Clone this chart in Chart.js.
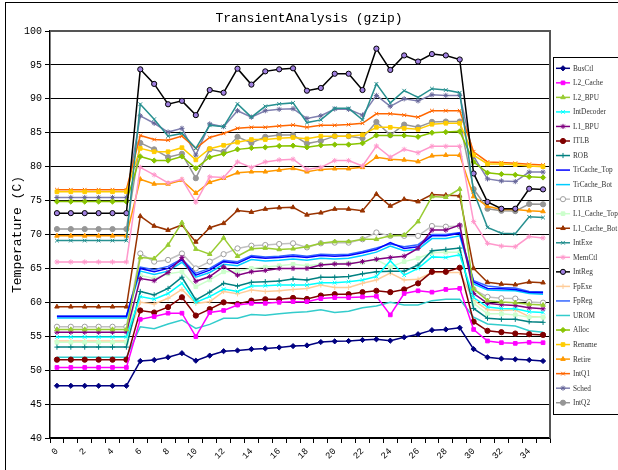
<!DOCTYPE html>
<html>
<head>
<meta charset="utf-8">
<script src="https://cdn.jsdelivr.net/npm/chart.js@4.4.0/dist/chart.umd.min.js"></script>
<style>
  body { margin: 0; background: #fff; }
  #wrap { width: 618px; height: 470px; }
</style>
</head>
<body>
<div id="wrap"><canvas id="tempChart" width="618" height="470"></canvas></div>
<script>
const steps = ['0','1','2','3','4','5','6','7','8','9','10','11','12','13','14','15','16','17',
  '18','19','20','21','22','23','24','25','26','27','28','29','30','31','32','33','34','35'];

const busCtl = [47.7,47.7,47.7,47.7,47.7,47.7, 51.35,51.5,51.9,52.5,51.4,52.15,52.8,52.9,53.1,53.2,53.35,53.55,53.65,54.15,54.25,54.3,54.45,54.55,54.35,54.85,55.3,55.9,56.0,56.25, 53.1,51.9,51.7,51.6,51.5,51.35];
const l2Cache = [50.4,50.4,50.4,50.4,50.4,50.4, 57.5,57.9,58.4,58.4,54.95,58.5,58.8,59.6,59.85,59.85,60.0,60.1,60.1,60.55,60.7,60.7,60.8,60.9,58.15,61.3,61.7,61.5,61.9,62.05, 56.0,54.3,54.05,53.95,54.1,54.05];
const l2Bpu = [56.0,56.0,56.0,56.0,56.0,56.0, 66.6,66.45,68.45,71.75,67.85,67.1,69.5,66.8,67.9,68.0,67.8,67.9,68.2,68.7,68.95,68.95,69.3,69.3,69.8,69.9,71.9,75.6,75.5,76.7, 62.0,60.25,60.05,59.95,59.7,59.6];
const intDecoder = [54.9,54.9,54.9,54.9,54.9,54.9, 60.85,60.45,61.3,62.8,60.0,60.85,61.95,61.6,62.4,62.45,62.55,62.55,62.55,62.9,62.9,63.05,63.3,63.8,66.1,64.0,65.0,66.7,66.6,67.0, 60.7,59.3,59.1,59.05,58.6,58.5];
const l1Bpu = [55.6,55.6,55.6,55.6,55.6,55.6, 63.5,63.2,64.4,66.6,63.1,63.8,65.25,64.0,64.5,64.7,65.0,65.0,65.0,65.5,65.65,65.65,66.0,66.35,66.6,66.8,67.95,70.65,70.65,71.4, 61.3,59.85,59.65,59.55,59.2,59.05];
const itlb = [51.55,51.55,51.55,51.55,51.55,51.55, 58.8,58.5,59.3,60.75,58.05,59.0,60.0,59.75,60.25,60.45,60.45,60.65,60.5,61.0,61.2,61.2,61.5,61.7,61.5,61.9,62.8,64.5,64.5,65.1, 57.15,55.8,55.6,55.4,55.3,55.2];
const rob = [53.4,53.4,53.4,53.4,53.4,53.4, 61.6,61.1,62.05,63.7,60.35,61.5,62.8,62.4,62.95,63.05,63.15,63.45,63.3,63.7,63.7,63.8,64.2,64.5,64.6,64.6,65.5,67.6,67.8,68.0, 59.1,57.65,57.5,57.5,57.15,57.05];
const trCacheTop = [57.9,57.9,57.9,57.9,57.9,57.9, 65.0,64.5,65.0,66.25,64.0,64.75,66.0,65.75,66.7,66.5,66.6,66.8,66.6,66.9,66.8,66.9,67.3,67.8,68.8,67.95,68.2,69.8,69.8,70.2, 63.0,62.05,62.0,61.9,61.5,61.4];
const trCacheBot = [57.7,57.7,57.7,57.7,57.7,57.7, 64.6,64.1,64.6,65.9,63.7,64.4,65.6,65.4,66.3,66.1,66.2,66.4,66.2,66.5,66.4,66.5,66.9,67.4,68.3,67.6,67.8,69.4,69.4,69.8, 62.7,61.8,61.75,61.7,61.3,61.2];
const dtlb = [56.4,56.4,56.4,56.4,56.4,56.4, 67.2,66.0,66.25,67.2,65.0,66.0,67.1,67.95,68.35,68.45,68.6,68.7,68.1,68.7,68.8,68.8,69.3,70.3,69.8,69.8,69.8,71.25,71.15,71.25, 61.9,60.8,60.6,60.55,60.05,59.95];
const l1CacheTop = [54.1,54.1,54.1,54.1,54.1,54.1, 64.0,63.5,64.2,64.5,62.3,63.3,64.5,64.6,65.0,65.2,65.4,65.6,65.4,65.6,65.7,65.8,65.9,66.3,65.2,66.0,66.5,67.3,67.4,67.4, 59.85,58.3,58.3,58.15,57.8,57.8];
const l1CacheBot = [59.35,59.35,59.35,59.35,59.35,59.35, 72.7,71.25,70.65,71.4,68.9,71.0,71.65,73.55,73.3,73.75,73.95,74.0,72.9,73.2,73.75,73.75,73.5,75.95,74.2,75.2,74.85,75.9,75.8,75.7, 65.0,62.95,62.7,62.6,63.0,62.9];
const intExe = [69.1,69.1,69.1,69.1,69.1,69.1, 89.2,87.0,84.5,84.9,82.7,86.1,85.9,89.25,87.3,88.9,89.25,89.4,86.5,86.9,88.6,88.6,86.9,92.2,89.4,91.2,90.2,91.5,91.3,90.9, 76.3,71.05,70.2,70.1,72.6,72.5];
const memCtl = [65.95,65.95,65.95,65.95,65.95,65.95, 79.9,78.8,77.6,78.15,74.75,78.5,78.4,80.7,79.9,80.7,81.0,81.1,79.6,79.9,80.9,80.9,80.1,83.05,81.4,82.55,82.05,83.0,83.0,83.0, 71.9,68.7,68.3,68.2,69.7,69.5];
const intReg = [73.15,73.15,73.15,73.15,73.15,73.15, 94.35,92.2,89.2,89.7,87.6,91.3,90.9,94.45,92.1,94.05,94.35,94.5,91.2,91.6,93.7,93.7,91.3,97.4,94.26,96.4,95.5,96.6,96.4,95.8, 79.0,74.8,73.8,73.8,76.75,76.65];
const fpExe = [54.3,54.3,54.3,54.3,54.3,54.3, 60.0,59.75,60.6,61.9,59.85,60.1,61.6,61.25,61.8,61.6,61.7,61.9,62.05,62.55,62.2,62.2,62.8,63.3,64.3,63.3,63.4,64.4,64.4,64.4, 60.3,58.9,58.8,58.9,57.9,57.8];
const fpReg = [58.0,58.0,58.0,58.0,58.0,58.0, 65.2,64.8,65.3,66.4,64.3,65.0,66.2,66.0,66.9,66.7,66.8,67.0,66.8,67.1,67.0,67.1,67.5,68.0,68.6,68.2,68.5,70.0,70.0,70.3, 63.2,62.4,62.2,62.1,61.6,61.55];
const urom = [51.9,51.9,51.9,51.9,51.9,51.9, 56.4,56.1,56.8,57.4,56.15,56.75,57.65,57.65,58.2,58.1,58.3,58.5,58.6,58.9,58.5,58.7,59.2,59.45,60.0,59.6,59.6,60.25,60.45,60.45, 57.8,56.8,56.65,56.5,55.8,55.6];
const alloc = [74.85,74.85,74.85,74.85,74.85,74.85, 81.5,80.9,80.9,81.5,79.75,81.4,81.9,82.55,82.75,82.85,83.05,83.1,82.85,83.15,83.25,83.25,83.45,84.6,84.6,84.6,84.4,85.0,85.1,85.2, 80.7,79.1,78.9,78.8,78.5,78.4];
const rename = [76.3,76.3,76.3,76.3,76.3,76.3, 82.7,82.2,82.2,82.8,81.0,82.65,83.15,83.6,84.0,84.0,84.2,84.3,84.1,84.5,84.5,84.5,84.7,85.8,85.8,85.65,85.5,86.25,86.4,86.4, 81.7,80.4,80.4,80.3,80.1,80.0];
const retire = [69.8,69.8,69.8,69.8,69.8,69.8, 78.15,77.45,77.45,78.0,76.1,77.7,78.3,79.1,79.25,79.25,79.5,79.75,79.25,79.6,79.7,79.7,79.9,81.4,81.1,81.0,80.75,81.6,81.7,81.7, 75.6,74.15,73.7,73.7,73.5,73.4];
const intQ1 = [76.6,76.6,76.6,76.6,76.6,76.6, 84.6,84.0,83.9,84.5,82.7,84.3,84.9,85.65,85.8,85.8,86.0,86.15,85.8,86.1,86.1,86.2,86.4,87.8,87.8,87.6,87.3,88.25,88.25,88.25, 82.2,80.7,80.6,80.5,80.35,80.25];
const sched = [75.45,75.45,75.45,75.45,75.45,75.45, 87.5,86.4,85.1,85.65,81.7,86.3,85.9,88.25,87.3,88.25,88.45,88.55,87.1,87.5,88.5,88.45,87.6,90.5,88.9,90.0,89.7,90.6,90.5,90.5, 81.5,78.2,77.9,77.8,79.2,79.2];
const intQ2 = [70.8,70.8,70.8,70.8,70.8,70.8, 83.5,82.55,81.4,81.9,78.3,82.55,82.2,84.4,83.5,84.4,84.65,84.65,83.4,83.8,84.5,84.5,84.2,86.6,84.65,86.2,85.8,86.6,86.65,86.65, 76.7,73.8,73.5,73.45,74.5,74.45];

const yTicks = [40, 45, 50, 55, 60, 65, 70, 75, 80, 85, 90, 95, 100];

const FONT = '"Liberation Mono", "DejaVu Sans Mono", monospace';
const LEGEND_FONT = '"Liberation Serif", "DejaVu Serif", serif';

// name, data, line colour, point style, point fill, point border
const seriesDefs = [
  ['BusCtl', busCtl, '#000080', 'rectRot', '#000080', '#000080'],
  ['L2_Cache', l2Cache, '#FF00FF', 'rect', '#FF00FF', '#FF00FF'],
  ['L2_BPU', l2Bpu, '#99CC33', 'triangle', '#99CC33', '#99CC33'],
  ['IntDecoder', intDecoder, '#00FFFF', 'crossRot', '#00FFFF', '#00FFFF'],
  ['L1_BPU', l1Bpu, '#800080', 'star', '#800080', '#800080'],
  ['ITLB', itlb, '#800000', 'circle', '#800000', '#800000'],
  ['ROB', rob, '#008080', 'cross', '#008080', '#008080'],
  ['TrCache_Top', trCacheTop, '#0000FF', 'line', '#0000FF', '#0000FF'],
  ['TrCache_Bot', trCacheBot, '#00CCFF', 'line', '#00CCFF', '#00CCFF'],
  ['DTLB', dtlb, '#C0C0C0', 'circle', '#FFFFFF', '#A0A0A0'],
  ['L1_Cache_Top', l1CacheTop, '#CCFFCC', 'rect', '#CCFFCC', '#CCFFCC'],
  ['L1_Cache_Bot', l1CacheBot, '#993300', 'triangle', '#993300', '#993300'],
  ['IntExe', intExe, '#279090', 'crossRot', '#279090', '#279090'],
  ['MemCtl', memCtl, '#FF99CC', 'star', '#FF99CC', '#FF99CC'],
  ['IntReg', intReg, '#000000', 'circle', '#A080E0', '#000000'],
  ['FpExe', fpExe, '#FFCC99', 'cross', '#FFCC99', '#FFCC99'],
  ['FpReg', fpReg, '#3366FF', 'line', '#3366FF', '#3366FF'],
  ['UROM', urom, '#33CCCC', 'line', '#33CCCC', '#33CCCC'],
  ['Alloc', alloc, '#88C400', 'rectRot', '#88C400', '#88C400'],
  ['Rename', rename, '#FFCC00', 'rect', '#FFCC00', '#FFCC00'],
  ['Retire', retire, '#FF9900', 'triangle', '#FF9900', '#FF9900'],
  ['IntQ1', intQ1, '#FF6600', 'crossRot', '#FF6600', '#FF6600'],
  ['Sched', sched, '#8080B0', 'star', '#666699', '#666699'],
  ['IntQ2', intQ2, '#969696', 'circle', '#969696', '#969696']
];

const datasets = seriesDefs.map(([name, data, line, style, fill, edge]) => ({
  label: name,
  data: data,
  borderColor: line,
  backgroundColor: fill,
  borderWidth: 1.5,
  pointStyle: style,
  pointRadius: style === 'line' ? 0 : 2.6,
  pointBackgroundColor: fill,
  pointBorderColor: edge,
  pointBorderWidth: 1,
  tension: 0,
  fill: false
}));

// small marker for the legend samples
function legendMarker(ctx, style, x, y, r) {
  if (Chart.helpers && Chart.helpers.drawPoint) {
    Chart.helpers.drawPoint(ctx, { pointStyle: style, radius: r, rotation: 0, borderWidth: 1 }, x, y);
    return;
  }
  ctx.beginPath();
  ctx.arc(x, y, r, 0, Math.PI * 2);
  ctx.fill();
  ctx.stroke();
}

// frame, title, plot border and legend box
const decor = {
  id: 'decor',
  beforeDraw(chart) {
    const ctx = chart.ctx;
    ctx.save();
    ctx.fillStyle = '#fff';
    ctx.fillRect(0, 0, chart.width, chart.height);
    ctx.strokeStyle = '#000';
    ctx.lineWidth = 1;
    ctx.strokeRect(5.5, 2.5, 700, 600);
    ctx.restore();
  },
  afterDraw(chart) {
    const ctx = chart.ctx;
    const a = chart.chartArea;
    ctx.save();
    ctx.strokeStyle = '#555';
    ctx.lineWidth = 2;
    ctx.beginPath();
    ctx.moveTo(a.left, a.top);
    ctx.lineTo(a.right, a.top);
    ctx.lineTo(a.right, a.bottom);
    ctx.stroke();

    ctx.fillStyle = '#000';
    ctx.font = '13px ' + FONT;
    ctx.textAlign = 'center';
    ctx.textBaseline = 'middle';
    ctx.fillText('TransientAnalysis (gzip)', 309, 19);

    // legend
    ctx.strokeStyle = '#000';
    ctx.lineWidth = 1;
    ctx.strokeRect(553.5, 57.5, 100, 357);
    ctx.font = '7.3px ' + LEGEND_FONT;
    ctx.textAlign = 'left';
    chart.data.datasets.forEach((ds, i) => {
      const y = 68.3 + i * 14.54;
      ctx.strokeStyle = ds.borderColor;
      ctx.lineWidth = 1.5;
      ctx.beginPath();
      ctx.moveTo(556, y);
      ctx.lineTo(570, y);
      ctx.stroke();
      if (ds.pointStyle !== 'line') {
        ctx.fillStyle = ds.pointBackgroundColor;
        ctx.strokeStyle = ds.pointBorderColor;
        ctx.lineWidth = 1;
        legendMarker(ctx, ds.pointStyle, 563, y, 2.6);
      }
      ctx.fillStyle = '#333';
      ctx.fillText(ds.label, 573, y + 0.5);
    });
    ctx.restore();
  }
};

new Chart(document.getElementById('tempChart'), {
  type: 'line',
  data: { labels: steps, datasets: datasets },
  plugins: [decor],
  options: {
    responsive: false,
    animation: false,
    layout: { padding: { left: 8, top: 31, right: 68, bottom: 0 } },
    plugins: {
      legend: { display: false },
      title: { display: false },
      tooltip: { enabled: false }
    },
    scales: {
      x: {
        type: 'category',
        offset: true,
        afterFit: s => { s.height = 32; },
        grid: { offset: true, drawOnChartArea: false, drawTicks: true, tickLength: 5, color: '#000' },
        border: { color: '#000', width: 1.5 },
        ticks: {
          autoSkip: false,
          minRotation: 45,
          maxRotation: 45,
          padding: 3,
          color: '#000',
          font: { family: FONT, size: 9 },
          callback: (v, i) => (i % 2 === 0 ? steps[i] : '')
        }
      },
      y: {
        min: yTicks[0],
        max: yTicks[yTicks.length - 1],
        afterFit: s => { s.width = 42; },
        afterBuildTicks: s => { s.ticks = yTicks.map(v => ({ value: v })); },
        grid: { color: '#000', lineWidth: 1, tickLength: 5 },
        border: { color: '#000', width: 1.5 },
        ticks: { padding: 3, color: '#000', font: { family: FONT, size: 10 } },
        title: {
          display: true,
          text: 'Temperature (C)',
          color: '#000',
          padding: { top: 2, bottom: 0 },
          font: { family: FONT, size: 13 }
        }
      }
    }
  }
});
</script>
</body>
</html>
